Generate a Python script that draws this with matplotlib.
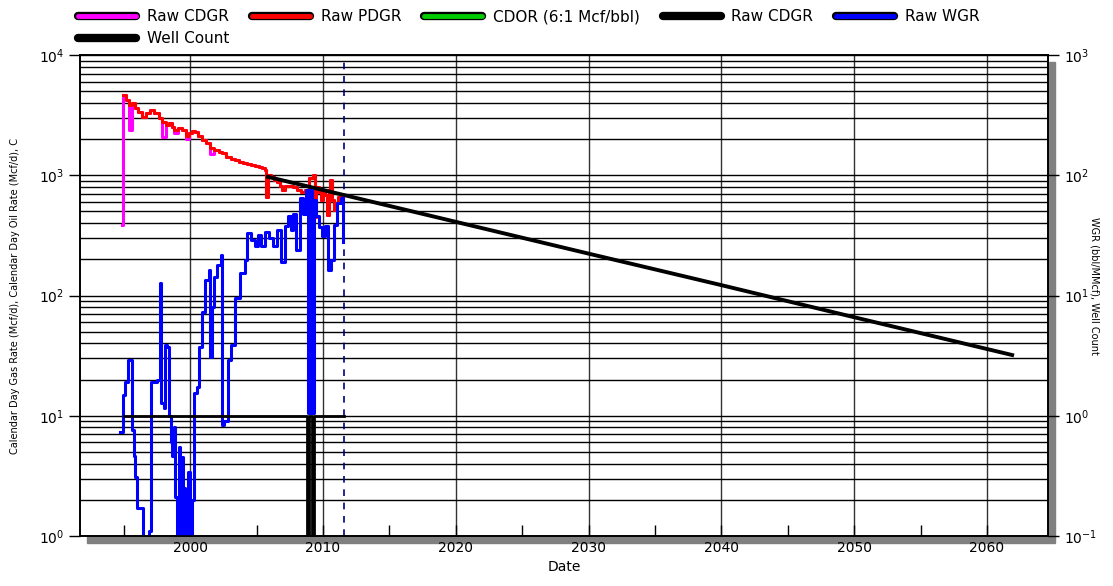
import matplotlib
matplotlib.use("Agg")
import matplotlib.pyplot as plt
import matplotlib.patheffects as pe
from matplotlib.lines import Line2D
from matplotlib.patches import Rectangle
from matplotlib.ticker import LogLocator, MultipleLocator, NullFormatter

# Raw PDGR (Mcf/d)
pdgr_years = [1994.91, 1995.14, 1995.37, 1995.60, 1995.82, 1996.05, 1996.36, 1996.66,
              1996.96, 1997.27, 1997.65, 1997.87, 1998.18, 1998.41, 1998.63, 1998.79,
              1999.09, 1999.39, 1999.70, 1999.92, 2000.15, 2000.38, 2000.61, 2000.91,
              2001.21, 2001.52, 2001.82, 2002.13, 2002.43, 2002.73, 2003.04, 2003.34,
              2003.64, 2003.95, 2004.25, 2004.56, 2004.86, 2005.16, 2005.39, 2005.62,
              2005.69, 2005.85, 2006.07, 2006.30, 2006.53, 2006.76, 2006.91, 2007.14,
              2007.44, 2007.74, 2008.05, 2008.35, 2008.66, 2008.96, 2009.26, 2009.42,
              2009.49, 2009.72, 2009.87, 2010.02, 2010.17, 2010.33, 2010.48, 2010.55,
              2010.71, 2010.86, 2011.01, 2011.16, 2011.39, 2011.54]
pdgr_vals = [4660, 4220, 3830, 3980, 3620, 3350, 3050, 3300,
             3480, 3300, 3000, 2780, 2620, 2700, 2510, 2380,
             2470, 2380, 2130, 2240, 2330, 2300, 2130, 1960,
             1850, 1690, 1620, 1560, 1530, 1420, 1370, 1340,
             1290, 1260, 1240, 1220, 1200, 1170, 1150, 1100,
             660, 1000, 970, 910, 880, 820, 750, 820,
             820, 800, 760, 730, 760, 950, 1000, 450,
             800, 730, 620, 760, 690, 470, 760, 910,
             620, 510, 590, 660, 620, 690]

# Raw CDGR (Mcf/d): same dates, with its own dips and the first low month
cdgr_years = [1994.84] + pdgr_years
cdgr_vals = [387, 4660, 4220, 2380, 3980, 3620, 3350, 3050, 3300,
             3480, 3300, 3000, 2080, 2620, 2700, 2510, 2250,
             2470, 2380, 2000, 2240, 2330, 2300, 2130, 1960,
             1850, 1500, 1620, 1560, 1530, 1420, 1370, 1340,
             1290, 1260, 1240, 1220, 1200, 1170, 1150, 1100,
             660, 1000, 970, 910, 880, 820, 750, 820,
             820, 800, 760, 730, 760, 950, 1000, 450,
             800, 730, 620, 760, 690, 470, 760, 910,
             620, 510, 590, 660, 620, 690]

# forecast CDGR (black)
fc_years = [2005.85, 2010, 2020, 2030, 2040, 2050, 2061.9]
fc_vals = [970, 754, 410, 223, 122, 66, 32]

# Raw WGR (bbl/MMcf), right axis
wgr_years = [1994.68, 1994.91, 1995.06, 1995.29, 1995.60, 1995.75, 1995.82, 1995.98,
             1996.30, 1996.43, 1996.89, 1997.04, 1997.49, 1997.72, 1997.80, 1998.03,
             1998.10, 1998.25, 1998.41, 1998.56, 1998.63, 1998.79, 1998.86, 1999.01,
             1999.16, 1999.24, 1999.39, 1999.47, 1999.62, 1999.85, 2000.00, 2000.15,
             2000.30, 2000.53, 2000.68, 2000.91, 2001.14, 2001.44, 2001.52, 2001.67,
             2001.82, 2002.05, 2002.28, 2002.43, 2002.58, 2002.81, 2003.04, 2003.34,
             2003.72, 2004.10, 2004.25, 2004.56, 2004.86, 2005.09, 2005.31, 2005.62,
             2005.92, 2006.22, 2006.53, 2006.83, 2007.14, 2007.37, 2007.59, 2007.74,
             2007.97, 2008.28, 2008.50, 2008.73, 2008.88, 2009.03, 2009.18, 2009.33,
             2009.49, 2009.72, 2009.94, 2010.17, 2010.40, 2010.63, 2010.86, 2011.09,
             2011.32, 2011.47]
wgr_vals = [0.73, 1.5, 1.9, 2.9, 0.76, 0.46, 0.31, 0.17,
            0.17, 0, 0.11, 1.9, 2.0, 12.7, 1.27, 1.17,
            3.9, 3.7, 0.99, 0.6, 0.46, 0.8, 0.21, 0,
            0.55, 0, 0.45, 0.25, 0, 0.34, 0, 0.2,
            1.55, 1.72, 3.7, 7.3, 13.4, 16.3, 3.1, 8.0,
            14.2, 17.9, 21.7, 0.84, 0.9, 2.9, 3.9, 9.6,
            15.4, 19.8, 33, 29, 26, 32, 26, 34,
            30, 26, 35, 19, 38, 46, 35, 48,
            24, 65, 48, 75, 1.05, 75, 1.05, 62,
            46, 37, 31, 38, 16.3, 19.8, 38.5, 59,
            65, 28]

# Well Count, right axis
wc_years = [1995.0, 2008.8, 2008.95, 2009.2, 2009.35, 2011.6]
wc_vals = [1, 0, 1, 0, 1, 1]

history_end = 2011.6

fig = plt.figure(figsize=(11.13, 5.86), dpi=100)
plt.rcParams['font.family'] = ['DejaVu Sans']
ax = fig.add_axes([0.0719, 0.0853, 0.8697, 0.8208])
ax2 = ax.twinx()

# drop shadow
shadow = Rectangle((0.0719 + 0.006, 0.0853 - 0.012), 0.8697, 0.8208,
                   transform=fig.transFigure, color='#808080', zorder=-10)
fig.patches.append(shadow)

ax.set_yscale('log')
ax.set_xlim(1991.7, 2064.6)
ax.set_ylim(1, 1e4)
ax2.set_yscale('log')
ax2.set_ylim(0.1, 1e3)

ax.plot(cdgr_years, cdgr_vals, color='magenta', lw=2.2, drawstyle='steps-post')
ax.plot(pdgr_years, pdgr_vals, color='red', lw=2.2, drawstyle='steps-post')
ax.plot(fc_years, fc_vals, color='black', lw=2.8)
ax.axvline(history_end, color='#000080', lw=1.2, ls=(0, (4, 4)))

ax2.plot(wgr_years, wgr_vals, color='blue', lw=2.2, drawstyle='steps-post')
ax2.plot(wc_years, wc_vals, color='black', lw=2, drawstyle='steps-post')

ax.yaxis.set_major_locator(LogLocator(base=10, numticks=10))
ax.yaxis.set_minor_locator(LogLocator(base=10, subs=range(2, 10), numticks=10))
ax.yaxis.set_minor_formatter(NullFormatter())
ax.grid(True, which='both', axis='y', color='black', lw=1.0)
ax.xaxis.set_major_locator(MultipleLocator(10))
ax.xaxis.set_minor_locator(MultipleLocator(5))
ax.grid(True, which='major', axis='x', color='#333333', lw=1.0)
ax.tick_params(axis='y', which='major', direction='out', length=8, width=1, labelsize=10)
ax.tick_params(axis='y', which='minor', length=0)
ax.tick_params(axis='x', which='both', direction='in', length=8, width=1, labelsize=10)

ax2.yaxis.set_major_locator(LogLocator(base=10, numticks=10))
ax2.yaxis.set_minor_locator(LogLocator(base=10, subs=range(2, 10), numticks=10))
ax2.yaxis.set_minor_formatter(NullFormatter())
ax2.tick_params(axis='y', which='major', direction='out', length=8, width=1, labelsize=10)
ax2.tick_params(axis='y', which='minor', length=0)

for a in (ax, ax2):
    for s in a.spines.values():
        s.set_linewidth(1.2)
        s.set_color('black')

ax.set_xlabel('Date', fontsize=10, labelpad=4)
ax.set_ylabel('Calendar Day Gas Rate (Mcf/d), Calendar Day Oil Rate (Mcf/d), C', fontsize=7)
ax.yaxis.set_label_coords(-0.062, 0.5)
ax2.set_ylabel('WGR (bbl/MMcf), Well Count', fontsize=7, rotation=270)
ax2.yaxis.set_label_coords(1.053, 0.52)

def handle(c):
    return Line2D([], [], color=c, lw=3.5, solid_capstyle='round',
                  path_effects=[pe.Stroke(linewidth=6, foreground='black'), pe.Normal()])

handles = [handle('magenta'), handle('black'), handle('red'), handle('#00cc00'),
           handle('black'), handle('blue')]
labels = ['Raw CDGR', 'Well Count', 'Raw PDGR', 'CDOR (6:1 Mcf/bbl)', 'Raw CDGR', 'Raw WGR']
fig.legend(handles, labels, loc='upper left', bbox_to_anchor=(0.070, 0.984), ncol=5,
           frameon=False, fontsize=11, handlelength=3.8, handletextpad=0.7,
           columnspacing=1.5, labelspacing=0.45, borderpad=0, borderaxespad=0)

fig.savefig('out.png', dpi=100)
